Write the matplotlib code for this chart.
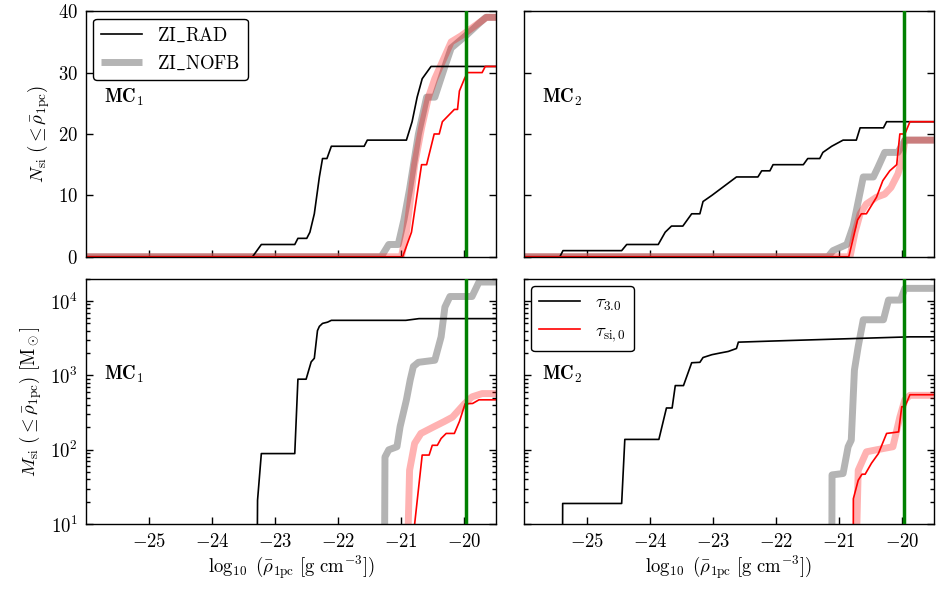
import matplotlib
matplotlib.use("Agg")
from matplotlib import pyplot as plt

plt.rcParams['font.family'] = 'serif'
plt.rcParams['font.serif'] = ['cmr10']
plt.rcParams['mathtext.fontset'] = 'cm'
plt.rcParams['axes.formatter.use_mathtext'] = True
plt.rcParams['axes.unicode_minus'] = True

# x: log10 of mean density inside 1 pc; y: cumulative number / mass of sink particles
# ---- MC1, number ----
n1_rad_t3_x = [-26, -23.36, -23.22, -22.69, -22.64, -22.5, -22.45, -22.38, -22.30, -22.25, -22.18,
               -22.11, -21.59, -21.54, -20.92, -20.83, -20.75, -20.67, -20.6, -20.53, -19.5]
n1_rad_t3_y = [0, 0, 2, 2, 3, 3, 4, 7, 13, 16, 16, 18, 18, 19, 19, 22, 26, 29, 30, 31, 31]
n1_nofb_t3_x = [-26, -21.32, -21.2, -21.05, -20.96, -20.87, -20.73, -20.6, -20.47, -20.31, -20.21,
                -19.98, -19.77, -19.66, -19.5]
n1_nofb_t3_y = [0, 0, 2, 2, 6, 11, 20, 26, 26, 31, 34, 36, 38, 39, 39]
n1_nofb_tsi_x = [-26, -21.0, -20.92, -20.79, -20.68, -20.57, -20.47, -20.34, -20.21, -20.05, -19.65, -19.5]
n1_nofb_tsi_y = [0, 0, 4, 15, 21, 26, 29, 32, 35, 36, 39, 39]
n1_rad_tsi_x = [-26, -20.98, -20.84, -20.68, -20.6, -20.48, -20.40, -20.35, -20.16, -20.11, -20.08,
                -20.0, -19.95, -19.72, -19.67, -19.5]
n1_rad_tsi_y = [0, 0, 4, 15, 15, 20, 20, 22, 24, 24, 27, 29, 30, 30, 31, 31]

# ---- MC2, number ----
n2_rad_t3_x = [-26, -25.43, -25.38, -24.45, -24.37, -23.87, -23.76, -23.66, -23.48, -23.34, -23.21,
               -23.16, -23.02, -22.89, -22.76, -22.63, -22.29, -22.23, -22.1, -22.05, -21.57, -21.5,
               -21.31, -21.26, -21.12, -20.94, -20.73, -20.67, -20.3, -20.25, -19.5]
n2_rad_t3_y = [0, 0, 1, 1, 2, 2, 4, 5, 5, 7, 7, 9, 10, 11, 12, 13, 13, 14, 14, 15, 15, 16,
               16, 17, 18, 19, 19, 21, 21, 22, 22]
n2_nofb_t3_x = [-26, -21.18, -21.1, -20.88, -20.78, -20.7, -20.62, -20.46, -20.39, -20.28, -20.2,
                -20.07, -19.96, -19.5]
n2_nofb_t3_y = [0, 0, 1, 2, 5, 9, 13, 13, 14.5, 17, 17, 17, 19, 19]
n2_nofb_tsi_x = [-26, -20.83, -20.75, -20.67, -20.57, -20.41, -20.28, -20.18, -20.07, -20.01, -19.96, -19.5]
n2_nofb_tsi_y = [0, 0, 4, 7, 8.6, 9.7, 10.2, 11.3, 13.5, 15.7, 19, 19]
n2_rad_tsi_x = [-26, -20.85, -20.71, -20.65, -20.57, -20.41, -20.31, -20.2, -20.09, -20.04, -19.96, -19.88, -19.5]
n2_rad_tsi_y = [0, 0, 6, 7, 7, 9.7, 12.4, 14, 15, 20, 20, 22, 22]

# ---- MC1, mass [Msun] ----
m1_rad_t3_x = [-23.29, -23.28, -23.22, -22.69, -22.64, -22.51, -22.43, -22.38, -22.33, -22.30, -22.25,
               -22.17, -22.11, -20.93, -20.72, -19.5]
m1_rad_t3_y = [1, 21, 89, 89, 890, 890, 1520, 1700, 4000, 4560, 5000, 5200, 5500, 5500, 5800, 5800]
m1_nofb_t3_x = [-21.27, -21.26, -21.2, -21.07, -21.02, -20.92, -20.86, -20.81, -20.73, -20.47, -20.37,
                -20.31, -20.23, -19.88, -19.77, -19.5]
m1_nofb_t3_y = [1, 80, 100, 110, 205, 470, 870, 1320, 1500, 1600, 3300, 8300, 11500, 11500, 18000, 18000]
m1_nofb_tsi_x = [-20.92, -20.87, -20.79, -20.69, -20.48, -20.32, -20.19, -20.0, -19.88, -19.72, -19.5]
m1_nofb_tsi_y = [1, 53, 122, 166, 205, 240, 275, 415, 515, 570, 570]
m1_rad_tsi_x = [-20.80, -20.79, -20.67, -20.56, -20.51, -20.43, -20.37, -20.29, -20.16, -20.08, -19.99,
                -19.87, -19.77, -19.5]
m1_rad_tsi_y = [1, 10, 85, 85, 115, 115, 142, 166, 166, 240, 415, 420, 470, 470]

# ---- MC2, mass [Msun] ----
m2_rad_t3_x = [-25.39, -25.385, -24.45, -24.40, -23.86, -23.74, -23.65, -23.60, -23.47, -23.34, -23.21,
               -23.16, -23.02, -22.89, -22.76, -22.63, -22.6, -22.05, -20.67, -19.88, -19.5]
m2_rad_t3_y = [1, 19, 19, 138, 138, 365, 365, 730, 730, 1480, 1500, 1740, 1900, 2000, 2100, 2300,
               2800, 2900, 3150, 3300, 3300]
m2_nofb_t3_x = [-21.12, -21.115, -20.94, -20.86, -20.81, -20.76, -20.70, -20.62, -20.30, -20.22,
                -20.03, -19.96, -19.5]
m2_nofb_t3_y = [1, 46, 48, 110, 135, 1180, 2450, 5600, 5600, 10300, 10300, 14800, 14800]
m2_nofb_tsi_x = [-20.75, -20.70, -20.57, -20.41, -20.15, -20.04, -19.96, -19.88, -19.5]
m2_nofb_tsi_y = [1, 53, 94, 100, 110, 275, 470, 540, 540]
m2_rad_tsi_x = [-20.78, -20.777, -20.70, -20.64, -20.59, -20.49, -20.38, -20.25, -20.06, -20.01,
                -19.96, -19.88, -19.5]
m2_rad_tsi_y = [1, 22, 39, 47, 47, 66, 89, 166, 174, 380, 380, 550, 550]

rho_crit = -19.97

panels = [
    [(n1_nofb_t3_x, n1_nofb_t3_y, n1_nofb_tsi_x, n1_nofb_tsi_y, n1_rad_t3_x, n1_rad_t3_y, n1_rad_tsi_x, n1_rad_tsi_y),
     (n2_nofb_t3_x, n2_nofb_t3_y, n2_nofb_tsi_x, n2_nofb_tsi_y, n2_rad_t3_x, n2_rad_t3_y, n2_rad_tsi_x, n2_rad_tsi_y)],
    [(m1_nofb_t3_x, m1_nofb_t3_y, m1_nofb_tsi_x, m1_nofb_tsi_y, m1_rad_t3_x, m1_rad_t3_y, m1_rad_tsi_x, m1_rad_tsi_y),
     (m2_nofb_t3_x, m2_nofb_t3_y, m2_nofb_tsi_x, m2_nofb_tsi_y, m2_rad_t3_x, m2_rad_t3_y, m2_rad_tsi_x, m2_rad_tsi_y)],
]

fs = 13.5

fig, axs = plt.subplots(2, 2, figsize=(9.52, 5.89), dpi=100, sharex=True)
fig.subplots_adjust(left=0.0903, right=0.981, top=0.981, bottom=0.11, wspace=0.068, hspace=0.089)

for i in range(2):
    for j in range(2):
        ax = axs[i, j]
        gx, gy, px, py, bx, by, rx, ry = panels[i][j]
        ax.plot(gx, gy, color='0.55', alpha=0.65, lw=5, solid_capstyle='butt', label='ZI$\\_$NOFB')
        ax.plot(px, py, color='red', alpha=0.3, lw=5, solid_capstyle='butt')
        ax.plot(bx, by, color='k', lw=1.2, label='ZI$\\_$RAD')
        ax.plot(rx, ry, color='red', lw=1.2)
        ax.axvline(rho_crit, color='green', lw=2.5, zorder=5)
        ax.set_xlim(-26, -19.5)
        ax.set_xticks([-25, -24, -23, -22, -21, -20])
        ax.tick_params(which='both', direction='in', left=True, right=True, top=False,
                       labelsize=fs, width=1.0)
        ax.tick_params(which='major', length=5, pad=6)
        ax.tick_params(which='minor', length=3)
        for s in ax.spines.values():
            s.set_linewidth(1.0)
        if i == 0:
            ax.set_ylim(0, 40)
            ax.set_yticks([0, 10, 20, 30, 40])
        else:
            ax.set_yscale('log')
            ax.set_ylim(10, 2e4)
            ax.set_xlabel(r'$\log_{10}\ (\bar{\rho}_{\rm 1pc}\ [{\rm g\ cm^{-3}}])$', fontsize=fs, labelpad=2)
        if j == 1:
            ax.tick_params(labelleft=False)
        ax.text(0.043, 0.65 if i == 0 else 0.61, r'$\mathbf{MC}_{%d}$' % (j + 1),
                transform=ax.transAxes, fontsize=fs, va='center')

axs[0, 0].set_ylabel(r'$N_{\rm si}\ (\leq \bar{\rho}_{\rm 1pc})$', fontsize=fs, labelpad=4)
axs[1, 0].set_ylabel(r'$M_{\rm si}\ (\leq \bar{\rho}_{\rm 1pc})\ [{\rm M}_\odot]$', fontsize=fs, labelpad=4)

h, l = axs[0, 0].get_legend_handles_labels()
leg = axs[0, 0].legend([h[1], h[0]], [l[1], l[0]], loc='upper left', fontsize=fs,
                       framealpha=1, edgecolor='k', handlelength=2.2, borderaxespad=0.4)
leg.get_frame().set_linewidth(1.0)

b_line, = axs[1, 1].plot([], [], color='k', lw=1.2)
r_line, = axs[1, 1].plot([], [], color='red', lw=1.2)
leg2 = axs[1, 1].legend([b_line, r_line], [r'$\tau_{3.0}$', r'$\tau_{\rm si,0}$'], loc='upper left',
                        fontsize=fs, framealpha=1, edgecolor='k', handlelength=2.2, borderaxespad=0.4)
leg2.get_frame().set_linewidth(1.0)

fig.savefig('out.png', dpi=100)
